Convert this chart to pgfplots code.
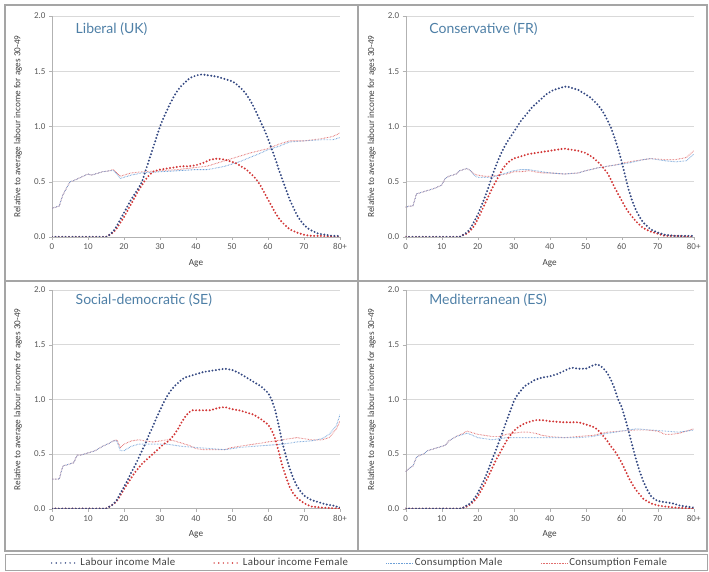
\documentclass[border=0pt]{standalone}
\usepackage{fontspec}
\setmainfont{Carlito}
\newfontfamily\titlefont{Lato}
\newfontfamily\legfont[LetterSpace=3]{Carlito}
\usepackage{pgfplots}
\pgfplotsset{compat=1.18}

\definecolor{labM}{RGB}{52,72,130}
\definecolor{labF}{RGB}{210,55,55}
\definecolor{conM}{RGB}{110,160,215}
\definecolor{conF}{RGB}{225,110,110}
\definecolor{ttl}{RGB}{78,127,166}
\definecolor{frame}{RGB}{165,165,165}

\tikzset{ptitle/.style={anchor=west, font=\titlefont\fontsize{14}{16}\selectfont, text=ttl}}

\pgfplotsset{
  labour/.style={line width=2.2pt, line cap=round, dash pattern=on 0pt off 3.4pt},
  cons/.style={line width=0.9pt, dash pattern=on 0.6pt off 0.9pt},
  panel/.style={
    scale only axis, width=288pt, height=221pt,
    xmin=0, xmax=80, ymin=0, ymax=2,
    axis x line*=bottom, axis y line*=left,
    axis line style={draw=gray!60, -},
    xtick={0,10,...,80}, xticklabels={0,10,20,30,40,50,60,70,80+},
    ytick={0,0.5,1,1.5,2},
    yticklabel style={/pgf/number format/.cd, fixed, fixed zerofill, precision=1},
    /pgf/number format/assume math mode=true,
    ymajorgrids, grid style={gray!30, line width=0.8pt},
    tick align=outside, major tick length=3pt, tick style={gray!60},
    ticklabel style={font=\fontsize{9}{10}\selectfont, text=black!65},
    xlabel={Age}, ylabel={Relative to average labour income for ages 30-49},
    label style={font=\fontsize{9.2}{10}\selectfont, text=black!75},
    xlabel style={at={(axis description cs:0.5,-0.118)}, anchor=center},
    ylabel style={at={(axis description cs:-0.118,0.5)}, anchor=center},
  },
}

\begin{document}
\begin{tikzpicture}
\useasboundingbox (0,0) rectangle (709pt,572pt);
% frames
\draw[frame, line width=1.5pt] (5pt,21pt) rectangle (707pt,567pt);
\draw[frame, line width=2pt] (5pt,291pt) -- (707pt,291pt);
\draw[frame, line width=1.5pt] (358pt,21pt) -- (358pt,567pt);
\draw[frame, line width=1pt] (5pt,1pt) rectangle (707pt,17pt);

% Liberal (UK)
\begin{axis}[panel, at={(52pt,335pt)}, anchor=south west]
\addplot[conF, cons] coordinates {(0,0.26)(1,0.27)(2,0.28)(3,0.38)(4,0.44)(5,0.5)(6,0.51)(8,0.54)(10,0.57)(11,0.56)(12,0.57)(14,0.59)(16,0.6)(17,0.61)(18,0.58)(19,0.55)(20,0.56)(22,0.58)(25,0.59)(30,0.6)(35,0.61)(40,0.63)(43,0.64)(45,0.66)(48,0.69)(50,0.71)(55,0.76)(60,0.8)(63,0.84)(66,0.87)(70,0.87)(75,0.89)(78,0.91)(80,0.94)};
\addplot[conM, cons] coordinates {(0,0.26)(1,0.27)(2,0.28)(3,0.38)(4,0.44)(5,0.5)(6,0.51)(8,0.54)(10,0.57)(11,0.56)(12,0.57)(14,0.59)(16,0.6)(17,0.6)(18,0.57)(19,0.53)(20,0.54)(22,0.56)(25,0.58)(30,0.59)(35,0.6)(40,0.61)(43,0.61)(45,0.62)(48,0.64)(50,0.66)(52,0.68)(55,0.72)(58,0.76)(60,0.79)(63,0.82)(66,0.86)(70,0.87)(75,0.88)(78,0.88)(80,0.9)};
\addplot[labF, labour] coordinates {(0,0)(15,0)(16,0.02)(17,0.04)(18,0.08)(19,0.13)(20,0.18)(21,0.24)(22,0.3)(23,0.36)(24,0.42)(25,0.47)(26,0.52)(27,0.56)(28,0.59)(29,0.6)(30,0.61)(32,0.62)(34,0.63)(36,0.64)(38,0.64)(40,0.65)(42,0.67)(44,0.7)(46,0.71)(48,0.7)(50,0.68)(51,0.67)(52,0.65)(53,0.63)(54,0.61)(55,0.58)(56,0.55)(57,0.51)(58,0.46)(59,0.4)(60,0.34)(61,0.28)(62,0.22)(63,0.17)(64,0.13)(65,0.1)(66,0.07)(68,0.04)(70,0.02)(72,0.01)(75,0.01)(80,0)};
\addplot[labM, labour] coordinates {(0,0)(15,0)(16,0.02)(17,0.05)(18,0.1)(19,0.16)(20,0.22)(21,0.28)(22,0.34)(23,0.39)(24,0.44)(25,0.5)(26,0.6)(27,0.7)(28,0.8)(29,0.9)(30,1.0)(31,1.08)(32,1.15)(33,1.22)(34,1.28)(35,1.33)(36,1.37)(37,1.4)(38,1.43)(39,1.45)(40,1.46)(41,1.47)(42,1.47)(44,1.46)(46,1.45)(48,1.43)(50,1.41)(51,1.39)(52,1.36)(53,1.33)(54,1.29)(55,1.24)(56,1.18)(57,1.11)(58,1.04)(59,0.97)(60,0.89)(61,0.8)(62,0.71)(63,0.61)(64,0.52)(65,0.43)(66,0.34)(67,0.27)(68,0.2)(69,0.15)(70,0.11)(71,0.08)(72,0.06)(74,0.03)(76,0.02)(78,0.01)(80,0.01)};
\node[ptitle] at (rel axis cs:0.07,0.94) {Liberal (UK)};
\end{axis}

% Conservative (FR)
\begin{axis}[panel, at={(405.7pt,335pt)}, anchor=south west]
\addplot[conF, cons] coordinates {(0,0.27)(1,0.28)(2,0.28)(3,0.39)(4,0.4)(6,0.42)(8,0.44)(10,0.47)(11,0.53)(12,0.55)(14,0.57)(15,0.6)(16,0.61)(17,0.62)(18,0.6)(19,0.57)(20,0.56)(22,0.55)(24,0.55)(26,0.56)(28,0.57)(30,0.59)(32,0.59)(34,0.6)(36,0.59)(38,0.58)(40,0.58)(44,0.57)(48,0.58)(50,0.6)(54,0.63)(58,0.65)(62,0.68)(66,0.7)(68,0.71)(72,0.7)(75,0.7)(78,0.72)(80,0.78)};
\addplot[conM, cons] coordinates {(0,0.27)(1,0.28)(2,0.28)(3,0.39)(4,0.4)(6,0.42)(8,0.44)(10,0.47)(11,0.53)(12,0.55)(14,0.57)(15,0.6)(16,0.61)(17,0.62)(18,0.6)(19,0.56)(20,0.54)(22,0.54)(24,0.54)(26,0.56)(28,0.58)(30,0.6)(32,0.61)(34,0.61)(36,0.6)(38,0.59)(40,0.58)(44,0.57)(48,0.58)(50,0.6)(54,0.63)(58,0.65)(62,0.67)(66,0.7)(68,0.71)(72,0.69)(75,0.68)(78,0.69)(80,0.75)};
\addplot[labF, labour] coordinates {(0,0)(15,0)(16,0.02)(17,0.03)(18,0.06)(19,0.1)(20,0.16)(21,0.23)(22,0.3)(23,0.37)(24,0.44)(25,0.5)(26,0.56)(27,0.62)(28,0.66)(29,0.69)(30,0.71)(32,0.73)(34,0.75)(36,0.76)(38,0.77)(40,0.78)(42,0.79)(44,0.8)(46,0.79)(48,0.78)(50,0.76)(51,0.74)(52,0.72)(53,0.69)(54,0.66)(55,0.62)(56,0.58)(57,0.52)(58,0.45)(59,0.39)(60,0.33)(61,0.27)(62,0.22)(63,0.18)(64,0.14)(66,0.08)(68,0.05)(70,0.03)(72,0.01)(75,0.01)(80,0)};
\addplot[labM, labour] coordinates {(0,0)(15,0)(16,0.02)(17,0.04)(18,0.08)(19,0.14)(20,0.2)(21,0.28)(22,0.36)(23,0.45)(24,0.55)(25,0.64)(26,0.72)(27,0.79)(28,0.85)(29,0.9)(30,0.95)(31,1.0)(32,1.05)(33,1.09)(34,1.13)(35,1.17)(36,1.2)(37,1.23)(38,1.26)(39,1.29)(40,1.31)(41,1.33)(42,1.34)(43,1.35)(44,1.36)(45,1.36)(46,1.35)(47,1.34)(48,1.33)(49,1.31)(50,1.29)(51,1.27)(52,1.24)(53,1.21)(54,1.17)(55,1.12)(56,1.06)(57,0.99)(58,0.9)(59,0.8)(60,0.68)(61,0.55)(62,0.42)(63,0.32)(64,0.24)(65,0.18)(66,0.13)(67,0.1)(68,0.07)(70,0.04)(72,0.02)(75,0.01)(80,0.01)};
\node[ptitle] at (rel axis cs:0.07,0.94) {Conservative (FR)};
\end{axis}

% Social-democratic (SE)
\begin{axis}[panel, height=218.7pt, at={(52pt,63.3pt)}, anchor=south west]
\addplot[conF, cons] coordinates {(0,0.27)(2,0.27)(3,0.39)(5,0.41)(6,0.42)(7,0.49)(8,0.49)(10,0.51)(12,0.53)(14,0.57)(16,0.6)(17,0.62)(18,0.63)(19,0.56)(20,0.59)(22,0.62)(24,0.63)(26,0.62)(28,0.61)(30,0.62)(32,0.63)(34,0.62)(36,0.6)(38,0.58)(40,0.55)(42,0.54)(44,0.54)(48,0.54)(50,0.56)(54,0.58)(58,0.6)(62,0.62)(66,0.64)(68,0.65)(72,0.63)(75,0.63)(77,0.65)(79,0.73)(80,0.8)};
\addplot[conM, cons] coordinates {(0,0.27)(2,0.27)(3,0.39)(5,0.41)(6,0.42)(7,0.49)(8,0.49)(10,0.51)(12,0.53)(14,0.57)(16,0.6)(17,0.62)(18,0.62)(19,0.53)(20,0.53)(22,0.57)(24,0.59)(26,0.59)(28,0.59)(30,0.59)(32,0.59)(34,0.58)(36,0.57)(40,0.56)(44,0.55)(48,0.54)(52,0.56)(56,0.57)(60,0.58)(64,0.59)(68,0.61)(72,0.62)(75,0.64)(77,0.68)(79,0.76)(80,0.86)};
\addplot[labF, labour] coordinates {(0,0)(15,0)(16,0.02)(17,0.04)(18,0.07)(19,0.12)(20,0.18)(21,0.23)(22,0.28)(23,0.33)(24,0.37)(25,0.41)(26,0.44)(27,0.47)(28,0.5)(29,0.53)(30,0.56)(31,0.59)(32,0.61)(33,0.64)(34,0.68)(35,0.73)(36,0.79)(37,0.84)(38,0.88)(39,0.9)(40,0.9)(42,0.9)(44,0.9)(46,0.92)(48,0.93)(50,0.91)(52,0.9)(54,0.88)(56,0.86)(58,0.82)(60,0.77)(61,0.72)(62,0.64)(63,0.52)(64,0.39)(65,0.29)(66,0.2)(67,0.14)(68,0.1)(70,0.05)(72,0.02)(75,0.01)(80,0)};
\addplot[labM, labour] coordinates {(0,0)(15,0)(16,0.02)(17,0.04)(18,0.08)(19,0.14)(20,0.2)(21,0.26)(22,0.33)(23,0.39)(24,0.46)(25,0.53)(26,0.6)(27,0.68)(28,0.75)(29,0.83)(30,0.9)(31,0.97)(32,1.03)(33,1.08)(34,1.12)(35,1.15)(36,1.18)(37,1.2)(38,1.21)(40,1.23)(42,1.25)(44,1.26)(46,1.27)(48,1.28)(50,1.27)(52,1.24)(54,1.2)(56,1.16)(58,1.12)(59,1.09)(60,1.06)(61,1.0)(62,0.9)(63,0.76)(64,0.6)(65,0.48)(66,0.37)(67,0.28)(68,0.21)(69,0.16)(70,0.12)(72,0.08)(74,0.06)(76,0.04)(78,0.03)(80,0.01)};
\node[ptitle] at (rel axis cs:0.07,0.955) {Social-democratic (SE)};
\end{axis}

% Mediterranean (ES)
\begin{axis}[panel, height=218.7pt, at={(405.7pt,63.3pt)}, anchor=south west]
\addplot[conF, cons] coordinates {(0,0.34)(1,0.37)(2,0.39)(3,0.47)(4,0.49)(5,0.5)(6,0.53)(8,0.55)(10,0.57)(11,0.58)(12,0.62)(14,0.66)(16,0.69)(17,0.71)(18,0.7)(20,0.68)(22,0.67)(24,0.66)(26,0.66)(28,0.68)(30,0.69)(32,0.7)(34,0.7)(36,0.69)(38,0.67)(40,0.66)(44,0.65)(48,0.66)(52,0.67)(56,0.7)(60,0.71)(64,0.72)(67,0.72)(70,0.71)(72,0.68)(74,0.68)(76,0.69)(80,0.73)};
\addplot[conM, cons] coordinates {(0,0.34)(1,0.37)(2,0.39)(3,0.47)(4,0.49)(5,0.5)(6,0.53)(8,0.55)(10,0.57)(11,0.58)(12,0.62)(14,0.66)(16,0.68)(17,0.69)(18,0.68)(20,0.65)(22,0.64)(24,0.63)(26,0.64)(28,0.65)(30,0.65)(32,0.65)(34,0.65)(36,0.65)(40,0.65)(44,0.65)(48,0.65)(52,0.66)(56,0.69)(60,0.71)(64,0.73)(68,0.72)(72,0.71)(76,0.7)(80,0.72)};
\addplot[labF, labour] coordinates {(0,0)(15,0)(16,0.01)(17,0.02)(18,0.04)(19,0.07)(20,0.11)(21,0.17)(22,0.23)(23,0.3)(24,0.37)(25,0.44)(26,0.5)(27,0.56)(28,0.62)(29,0.67)(30,0.71)(31,0.74)(32,0.76)(33,0.78)(34,0.79)(36,0.81)(38,0.81)(40,0.8)(44,0.79)(48,0.79)(50,0.77)(52,0.75)(53,0.73)(54,0.7)(55,0.66)(56,0.62)(57,0.57)(58,0.53)(59,0.48)(60,0.42)(61,0.35)(62,0.28)(63,0.22)(64,0.17)(65,0.13)(66,0.09)(68,0.05)(70,0.03)(72,0.02)(75,0.01)(80,0)};
\addplot[labM, labour] coordinates {(0,0)(15,0)(16,0.01)(17,0.03)(18,0.05)(19,0.09)(20,0.14)(21,0.21)(22,0.28)(23,0.36)(24,0.45)(25,0.53)(26,0.62)(27,0.71)(28,0.8)(29,0.89)(30,0.98)(31,1.04)(32,1.08)(33,1.12)(34,1.14)(35,1.16)(36,1.18)(38,1.2)(40,1.21)(42,1.23)(44,1.26)(46,1.29)(48,1.28)(50,1.28)(52,1.31)(53,1.32)(54,1.31)(55,1.28)(56,1.24)(57,1.18)(58,1.1)(59,1.0)(60,0.93)(61,0.82)(62,0.7)(63,0.57)(64,0.45)(65,0.34)(66,0.25)(67,0.18)(68,0.12)(69,0.09)(70,0.07)(72,0.06)(74,0.05)(76,0.03)(78,0.02)(80,0.01)};
\node[ptitle] at (rel axis cs:0.07,0.955) {Mediterranean (ES)};
\end{axis}

% legend
\begin{axis}[at={(360pt,9pt)}, anchor=center, hide axis, scale only axis,
  width=600pt, height=8pt, xmin=0, xmax=1, ymin=0, ymax=1,
  legend columns=4,
  legend image code/.code={\draw[#1] (0pt,0pt) -- (26pt,0pt);},
  legend style={at={(0.5,0.5)}, anchor=center, draw=none, fill=none,
    font=\legfont\fontsize{10.8}{12}\selectfont, text=black!75,
    /tikz/every even column/.append style={column sep=36pt}}]
\addlegendimage{draw=labM, line width=1.6pt, line cap=round, dash pattern=on 0pt off 4.6pt}
\addlegendentry{Labour income Male}
\addlegendimage{draw=labF, line width=1.6pt, line cap=round, dash pattern=on 0pt off 4.6pt}
\addlegendentry{Labour income Female}
\addlegendimage{draw=conM, line width=0.9pt, dash pattern=on 0.8pt off 0.8pt}
\addlegendentry{Consumption Male}
\addlegendimage{draw=conF, line width=0.9pt, dash pattern=on 0.8pt off 0.8pt}
\addlegendentry{Consumption Female}
\end{axis}
\end{tikzpicture}
\end{document}
